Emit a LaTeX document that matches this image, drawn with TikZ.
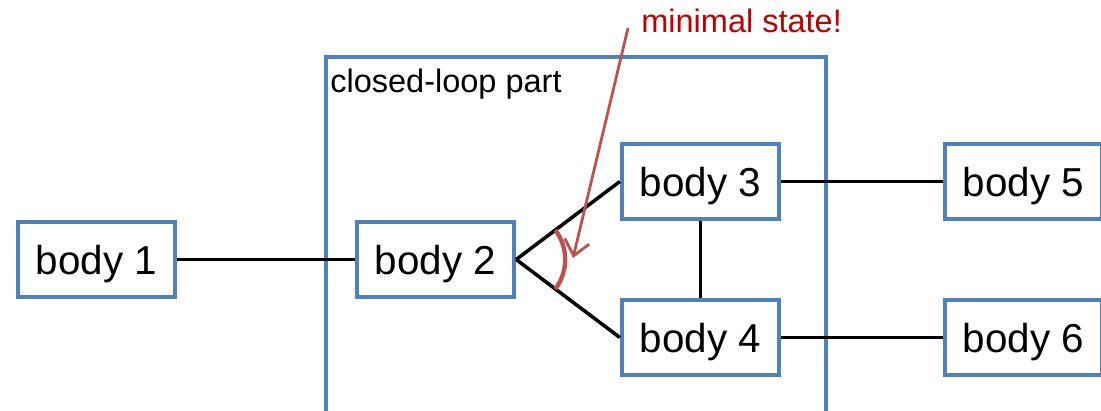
\documentclass[tikz,border=0pt]{standalone}
\usepackage{fontspec}
\setmainfont{Liberation Sans}
\usetikzlibrary{arrows.meta}
\definecolor{boxblue}{HTML}{4F81BD}
\definecolor{arcred}{HTML}{C0504D}
\definecolor{textred}{HTML}{C00000}
\begin{document}
\begin{tikzpicture}[x=0.02cm,y=-0.02cm,
  body/.style={draw=boxblue, line width=2.5pt, fill=white,
    minimum width=3.14cm, minimum height=1.5cm, inner sep=0pt,
    text height=17pt, text depth=0pt,
    font=\fontsize{23}{27}\selectfont},
  frame/.style={draw=boxblue, line width=2.5pt, inner sep=0pt,
    minimum width=10cm, minimum height=7.7cm},
  link/.style={line width=2pt, black},
  note/.style={inner sep=0pt, font=\fontsize{18.5}{22}\selectfont}
  ]
\useasboundingbox (0,0) rectangle (1101,410);
\node[frame, anchor=north west] (loop) at (324,55) {};
\node[note, anchor=base west] (looplabel) at (330,92) {closed-loop part};

\node[body] (b1) at (96.5,259.5) {body 1};
\node[body] (b2) at (435.5,259.5) {body 2};
\node[body] (b3) at (700.5,181.5) {body 3};
\node[body] (b4) at (700.5,337.5) {body 4};
\node[body] (b5) at (1023.5,181.5) {body 5};
\node[body] (b6) at (1023.5,337.5) {body 6};

\draw[link] (b1.east) -- (b2.west);
\draw[link] (b2.east) -- (b3.west);
\draw[link] (b2.east) -- (b4.west);
\draw[link] (b3.south) -- (b4.north);
\draw[link] (b3.east) -- (b5.west);
\draw[link] (b4.east) -- (b6.west);

\draw[arcred, line width=2.5pt] (b2.east) ++(37:0.98cm) arc[start angle=37, end angle=-37, radius=0.98cm];

\node[note, text=textred, anchor=base west] (minimal) at (641,32) {minimal state!};
\coordinate (arrowstart) at (628,28);
\coordinate (arrowtip) at (573,258);
\draw[arcred, line width=1.6pt, -{Straight Barb[length=0.3cm,width=0.5cm]}] (arrowstart) -- (arrowtip);
\end{tikzpicture}
\end{document}
